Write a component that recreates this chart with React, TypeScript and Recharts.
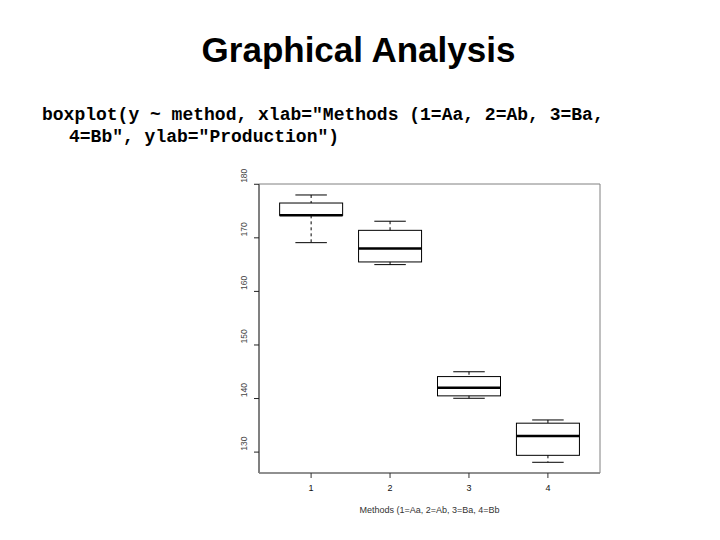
import { Bar, ComposedChart, ReferenceArea, XAxis, YAxis } from "recharts";

const METHODS = [1, 2, 3, 4];
const WHISKER_LOW = [169.1, 165.0, 140.05, 128.1];
const Q1 = [174.2, 165.5, 140.5, 129.4];
const MEDIAN = [174.2, 168.0, 142.0, 133.0];
const Q3 = [176.5, 171.4, 144.1, 135.4];
const WHISKER_HIGH = [178.0, 173.1, 145.0, 136.0];

const Y_TICKS = [130, 140, 150, 160, 170, 180];
const X_DOMAIN = [0.34, 4.66];
const Y_DOMAIN = [126.1, 180.05];

const TITLE = "Graphical Analysis";
const CODE_LINES = ['boxplot(y ~ method, xlab="Methods (1=Aa, 2=Ab, 3=Ba,', '4=Bb", ylab="Production")'];
const X_LABEL = "Methods (1=Aa, 2=Ab, 3=Ba, 4=Bb";

const data = METHODS.map((m, i) => ({
  method: m,
  range: [WHISKER_LOW[i], WHISKER_HIGH[i]],
  low: WHISKER_LOW[i],
  q1: Q1[i],
  median: MEDIAN[i],
  q3: Q3[i],
  high: WHISKER_HIGH[i]
}));

// one range bar per group spans low..high; the rest is placed on that same scale
const BoxShape = (props: any) => {
  const { x, y, width, height, payload } = props;
  const top = Math.min(y, y + height);
  const bottom = Math.max(y, y + height);
  const span = payload.high - payload.low;
  const py = (v: number) => bottom - ((v - payload.low) / span) * (bottom - top);
  const cx = x + width / 2;
  const cap = width / 4;
  return (
    <g>
      <line x1={cx} x2={cx} y1={py(payload.high)} y2={py(payload.q3)} stroke="#000" strokeDasharray="3 3" />
      <line x1={cx} x2={cx} y1={py(payload.q1)} y2={py(payload.low)} stroke="#000" strokeDasharray="3 3" />
      <line x1={cx - cap} x2={cx + cap} y1={py(payload.high)} y2={py(payload.high)} stroke="#000" />
      <line x1={cx - cap} x2={cx + cap} y1={py(payload.low)} y2={py(payload.low)} stroke="#000" />
      <rect
        x={x}
        y={py(payload.q3)}
        width={width}
        height={py(payload.q1) - py(payload.q3)}
        fill="none"
        stroke="#000"
      />
      <line x1={x} x2={x + width} y1={py(payload.median)} y2={py(payload.median)} stroke="#000" strokeWidth={2.5} />
    </g>
  );
};

const YTick = (props: any) => {
  const { x, y, payload } = props;
  const tx = x - 8;
  const ty = y - 8.5;
  return (
    <text
      x={tx}
      y={ty}
      transform={`rotate(-90 ${tx} ${ty})`}
      textAnchor="middle"
      dominantBaseline="central"
      fontSize={8.5}
      fill="#444"
      fontFamily="'Liberation Sans', Arial, sans-serif"
    >
      {payload.value}
    </text>
  );
};

export default function App() {
  return (
    <div style={{ position: "absolute", left: 0, top: 0, width: 720, height: 540, background: "#fff" }}>
      <svg width={720} height={540} style={{ position: "absolute", left: 0, top: 0 }}>
        <text
          x={358.5}
          y={61.5}
          textAnchor="middle"
          fontSize={35}
          fontWeight="bold"
          fontFamily="'Liberation Sans', Arial, sans-serif"
          fill="#000"
        >
          {TITLE}
        </text>
        <text x={42} y={120} fontSize={18} fontWeight="bold" fontFamily="'Liberation Mono', 'Courier New', monospace" fill="#000" xmlSpace="preserve">
          {CODE_LINES[0]}
        </text>
        <text x={69} y={141.5} fontSize={18} fontWeight="bold" fontFamily="'Liberation Mono', 'Courier New', monospace" fill="#000" xmlSpace="preserve">
          {CODE_LINES[1]}
        </text>
      </svg>
      <div style={{ position: "absolute", left: 0, top: 0 }}>
        <ComposedChart
          width={720}
          height={540}
          data={data}
          margin={{ top: 184, right: 120, left: 229, bottom: 27 }}
          style={{ fontFamily: "'Liberation Sans', Arial, sans-serif" }}
        >
          <ReferenceArea
            x1={X_DOMAIN[0]}
            x2={X_DOMAIN[1]}
            y1={Y_DOMAIN[0]}
            y2={Y_DOMAIN[1]}
            fill="none"
            stroke="#808080"
            strokeWidth={1}
            ifOverflow="visible"
          />
          <XAxis
            dataKey="method"
            type="number"
            domain={X_DOMAIN}
            ticks={METHODS}
            allowDataOverflow
            height={40}
            tickSize={5}
            tickMargin={7}
            axisLine={{ stroke: "#808080", strokeWidth: 1.5 }}
            tickLine={{ stroke: "#333" }}
            tick={{ fontSize: 9, fill: "#111" }}
            label={{ value: X_LABEL, position: "insideBottom", offset: 0, fontSize: 9, fill: "#333" }}
          />
          <YAxis
            type="number"
            domain={Y_DOMAIN}
            ticks={Y_TICKS}
            allowDataOverflow
            width={30}
            tickSize={5}
            axisLine={{ stroke: "#808080", strokeWidth: 2 }}
            tickLine={{ stroke: "#222" }}
            tick={<YTick />}
          />
          <Bar dataKey="range" barSize={63} shape={BoxShape} isAnimationActive={false} />
        </ComposedChart>
      </div>
    </div>
  );
}
